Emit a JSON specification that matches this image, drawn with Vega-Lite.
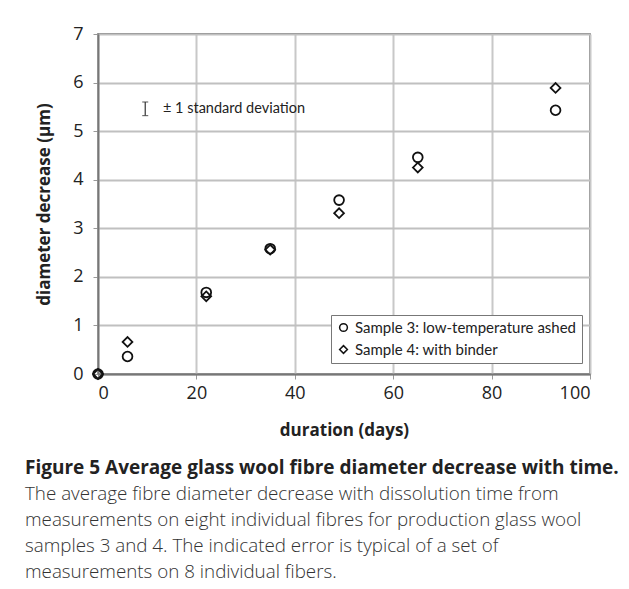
{
  "$schema": "https://vega.github.io/schema/vega-lite/v6.json",
  "width": 492,
  "height": 340,
  "autosize": {"type": "none"},
  "padding": {"left": 98, "top": 34, "right": 39, "bottom": 215},
  "background": "white",
  "datasets": {
    "points": [
      {"day": 0, "decrease": 0, "sample": "Sample 3: low-temperature ashed"},
      {"day": 6, "decrease": 0.36, "sample": "Sample 3: low-temperature ashed"},
      {"day": 22, "decrease": 1.68, "sample": "Sample 3: low-temperature ashed"},
      {"day": 35, "decrease": 2.58, "sample": "Sample 3: low-temperature ashed"},
      {"day": 49, "decrease": 3.58, "sample": "Sample 3: low-temperature ashed"},
      {"day": 65, "decrease": 4.46, "sample": "Sample 3: low-temperature ashed"},
      {"day": 93, "decrease": 5.43, "sample": "Sample 3: low-temperature ashed"},
      {"day": 0, "decrease": 0, "sample": "Sample 4: with binder"},
      {"day": 6, "decrease": 0.66, "sample": "Sample 4: with binder"},
      {"day": 22, "decrease": 1.6, "sample": "Sample 4: with binder"},
      {"day": 35, "decrease": 2.56, "sample": "Sample 4: with binder"},
      {"day": 49, "decrease": 3.31, "sample": "Sample 4: with binder"},
      {"day": 65, "decrease": 4.25, "sample": "Sample 4: with binder"},
      {"day": 93, "decrease": 5.89, "sample": "Sample 4: with binder"}
    ],
    "sd": [
      {"day": 9.6, "mid": 5.46, "low": 5.32, "high": 5.6, "labelDay": 13.2, "label": "± 1 standard deviation"}
    ]
  },
  "title": {
    "text": "Figure 5 Average glass wool fibre diameter decrease with time.",
    "subtitle": [
      "The average fibre diameter decrease with dissolution time from",
      "measurements on eight individual fibres for production glass wool",
      "samples 3 and 4. The indicated error is typical of a set of",
      "measurements on 8 individual fibers."
    ],
    "orient": "bottom",
    "anchor": "start",
    "frame": "group",
    "dx": -73,
    "offset": 21,
    "font": "Open Sans",
    "fontSize": 19,
    "fontWeight": "bold",
    "color": "#222",
    "subtitleFont": "Open Sans",
    "subtitleFontSize": 18.8,
    "subtitleFontWeight": 300,
    "subtitleColor": "#333",
    "subtitleLineHeight": 26,
    "subtitlePadding": 7
  },
  "config": {
    "view": {"stroke": "#555", "strokeWidth": 1.5},
    "axis": {
      "labelFont": "Open Sans",
      "labelFontSize": 18,
      "labelColor": "#222",
      "titleFont": "Open Sans",
      "titleFontSize": 17,
      "titleFontWeight": "bold",
      "titleColor": "#222",
      "domainColor": "#777",
      "domainWidth": 1.8,
      "tickColor": "#999",
      "tickSize": 5
    }
  },
  "encoding": {
    "x": {
      "field": "day", "type": "quantitative",
      "scale": {"domain": [0, 100], "nice": false},
      "axis": {"grid": true, "gridColor": "#c8c8c8", "gridWidth": 2, "tickCount": 5, "title": "duration (days)", "labelPadding": 5, "titlePadding": 20}
    },
    "y": {
      "field": "decrease", "type": "quantitative",
      "scale": {"domain": [0, 7], "nice": false},
      "axis": {"grid": true, "gridColor": "#c0c0c0", "gridWidth": 2, "tickCount": 7, "title": "diameter decrease (µm)", "labelPadding": 10, "titlePadding": 19}
    }
  },
  "layer": [
    {
      "data": {"name": "points"},
      "mark": {"type": "point", "filled": false, "strokeWidth": 1.8, "size": 95, "color": "#111", "opacity": 1},
      "encoding": {
        "shape": {
          "field": "sample", "type": "nominal",
          "scale": {"domain": ["Sample 3: low-temperature ashed", "Sample 4: with binder"], "range": ["circle", "diamond"]},
          "legend": {
            "title": null,
            "orient": "none",
            "legendX": 233,
            "legendY": 281,
            "direction": "vertical",
            "strokeColor": "#777",
            "fillColor": "white",
            "padding": 5,
            "labelFont": "Lato",
            "labelFontSize": 15,
            "labelColor": "#222",
            "labelLimit": 0,
            "symbolSize": 60,
            "symbolStrokeWidth": 1.5,
            "symbolStrokeColor": "#111",
            "symbolType": "circle",
            "rowPadding": 6,
            "labelOffset": 4
          }
        }
      }
    },
    {
      "data": {"name": "sd"},
      "mark": {"type": "errorbar", "ticks": {"size": 6, "color": "#333"}, "rule": {"color": "#333"}, "thickness": 1.2},
      "encoding": {
        "y": {"field": "low", "type": "quantitative"},
        "y2": {"field": "high"}
      }
    },
    {
      "data": {"name": "sd"},
      "mark": {"type": "text", "align": "left", "baseline": "middle", "font": "Lato", "fontSize": 14.5, "color": "#222"},
      "encoding": {
        "x": {"field": "labelDay", "type": "quantitative"},
        "y": {"field": "mid", "type": "quantitative"},
        "text": {"field": "label"}
      }
    }
  ]
}
